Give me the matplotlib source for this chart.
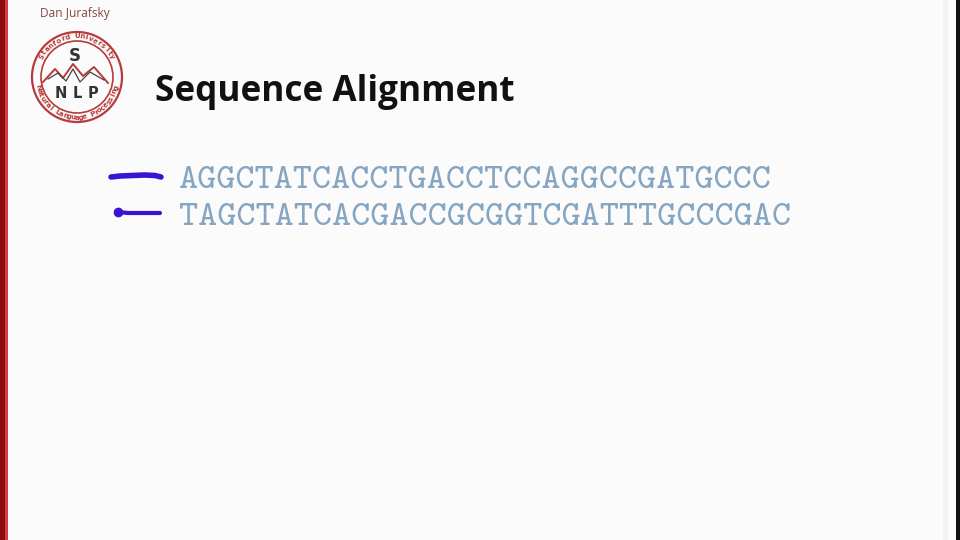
import numpy as np
import matplotlib.pyplot as plt
from matplotlib.patches import Circle, Rectangle

# slide content
author = "Dan Jurafsky"
title = "Sequence Alignment"
seq_top = "AGGCTATCACCTGACCTCCAGGCCGATGCCC"
seq_bottom = "TAGCTATCACGACCGCGGTCGATTTGCCCGAC"
ring_top = "Stanford University"
ring_bottom = "Natural Language Processing"
logo_letters = ["S", "N", "L", "P"]

# hand-drawn pen strokes (pixel coords)
pen1_x = [111, 120, 132, 145, 155, 161]
pen1_y = [177, 176, 175.5, 175, 175.5, 177]
pen2_x = [118, 128, 140, 152, 160]
pen2_y = [212, 213, 213, 213, 213]

fig = plt.figure(figsize=(9.6, 5.4), dpi=100)
fig.patch.set_facecolor('#fafbfa')
ax = fig.add_axes([0, 0, 1, 1])
ax.set_xlim(0, 960)
ax.set_ylim(540, 0)
ax.axis('off')

# borders
ax.add_patch(Rectangle((0, 0), 5, 540, color='#8a0c0c', lw=0))
ax.add_patch(Rectangle((5, 0), 2.5, 540, color='#d04040', lw=0))
ax.add_patch(Rectangle((943, 0), 5, 540, color='#f1f2f1', lw=0))
ax.add_patch(Rectangle((955.5, 0), 5, 540, color='#111111', lw=0))

# author
ax.text(40, 14, author, fontsize=8.6, color='#8a4444', family='Open Sans',
        va='center', ha='left')

# logo
cx, cy = 77, 77
red = '#b83a3a'
ax.add_patch(Circle((cx, cy), 45, fill=False, ec=red, lw=1.6))
ax.add_patch(Circle((cx, cy), 36, fill=False, ec=red, lw=1.2))
ax.text(cx - 2, 56, logo_letters[0], fontsize=12, fontweight='bold',
        color='#333333', ha='center', va='center', family='DejaVu Sans')
for lx, ch in zip([61, 77, 93], logo_letters[1:]):
    ax.text(lx, 93, ch, fontsize=10.5, fontweight='bold', color='#333333',
            ha='center', va='center', family='DejaVu Sans')
ax.plot([43, 55, 63, 73, 83, 94, 108], [82, 69, 78, 64, 76, 67, 83],
        color=red, lw=1.4)
ax.plot([48, 58, 66, 73, 80, 90, 104], [79, 73, 81, 69, 82, 72, 80],
        color='#444444', lw=0.9)

def ring_text(s, r, a0, a1, top=True):
    angs = np.linspace(a0, a1, len(s))
    for ch, a in zip(s, angs):
        t = np.deg2rad(a)
        x = cx + r * np.cos(t)
        y = cy - r * np.sin(t)
        rot = a - 90 if top else a + 90
        ax.text(x, y, ch, fontsize=5, color=red, fontweight='bold',
                rotation=rot, ha='center', va='center', family='DejaVu Sans')

ring_text(ring_top, 40.5, 150, 30, top=True)
ring_text(ring_bottom, 40.5, 195, 345, top=False)

# title
ax.text(155, 92, title, fontsize=25.3, fontweight='bold', color='#111111',
        family='Open Sans', va='center', ha='left')

# sequences
seq_color = '#86a5c2'
ax.text(179, 181, seq_top, fontsize=26.2, color=seq_color,
        family='cmtt10', va='center', ha='left')
ax.text(179, 218, seq_bottom, fontsize=26.2, color=seq_color,
        family='cmtt10', va='center', ha='left')

# pen marks
pen = '#3a14d0'
ax.plot(pen1_x, pen1_y, color=pen, lw=4, solid_capstyle='round')
ax.plot(pen2_x, pen2_y, color=pen, lw=3, solid_capstyle='round')
ax.plot(pen2_x[:1], pen2_y[:1], 'o', color=pen, ms=6)

fig.savefig('out.png', dpi=100, facecolor=fig.get_facecolor())
